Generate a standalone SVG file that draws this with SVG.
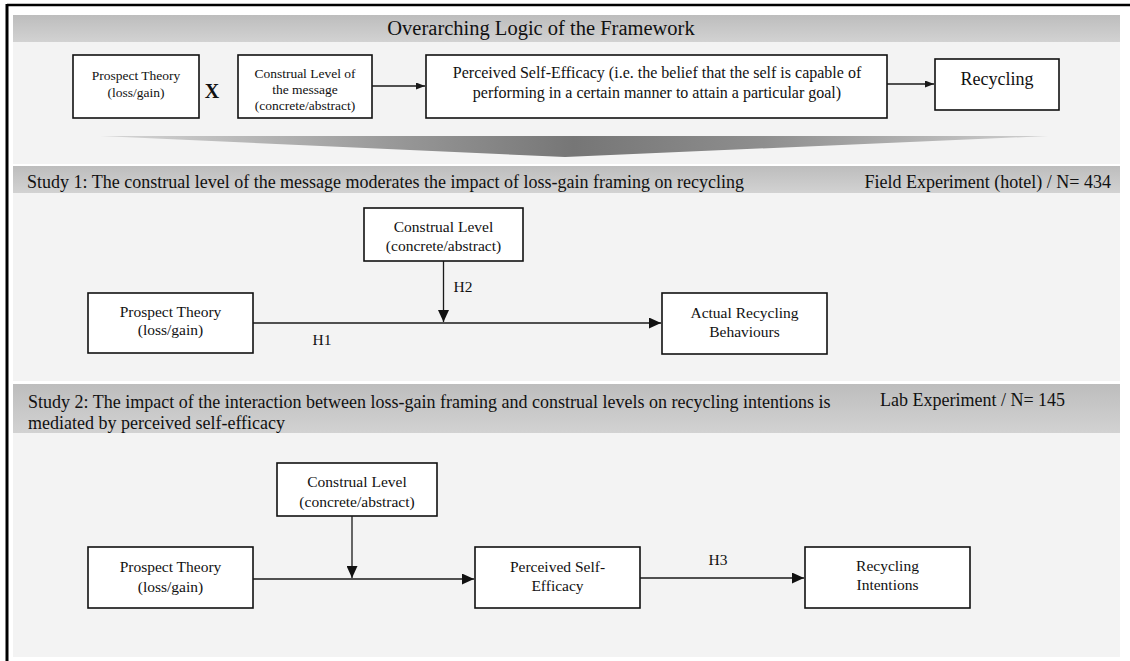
<svg xmlns="http://www.w3.org/2000/svg" width="1130" height="661" viewBox="0 0 1130 661">
<style>
text{font-family:"Liberation Serif","Times New Roman",serif;fill:#111}
.box{fill:#fff;stroke:#111;stroke-width:1.6}
.band{fill:url(#bandGrad)}
.panel{fill:#f3f3f3}
.t13{font-size:13.5px;text-anchor:middle}
.t15{font-size:15.5px;text-anchor:middle}
.t16{font-size:16px;text-anchor:middle}
.hdr{font-size:18px}
.conn{stroke:#1a1a1a;stroke-width:1.3;fill:none}
</style>
<defs>
<linearGradient id="bandGrad" x1="0" y1="0" x2="0" y2="1">
<stop offset="0" stop-color="#bdbdbd"/>
<stop offset="1" stop-color="#d2d2d2"/>
</linearGradient>
<linearGradient id="wedgeGrad" x1="0" y1="0" x2="1" y2="0">
<stop offset="0" stop-color="#d6d6d6"/>
<stop offset="0.3" stop-color="#9a9a9a"/>
<stop offset="0.5" stop-color="#767676"/>
<stop offset="0.7" stop-color="#8e8e8e"/>
<stop offset="1" stop-color="#d0d0d0"/>
</linearGradient>
<marker id="arrS" markerUnits="userSpaceOnUse" markerWidth="9" markerHeight="7" refX="9" refY="3.5" orient="auto">
<path d="M0,0 L9,3.5 L0,7 z" fill="#1a1a1a"/>
</marker>
<marker id="arrL" markerUnits="userSpaceOnUse" markerWidth="12" markerHeight="11" refX="12" refY="5.5" orient="auto">
<path d="M0,0 L12,5.5 L0,11 z" fill="#111"/>
</marker>
</defs>

<!-- background and frame -->
<rect x="0" y="0" width="1130" height="661" fill="#fff"/>
<rect x="13" y="42" width="1107" height="122" class="panel"/>
<rect x="13" y="193" width="1107" height="188" class="panel"/>
<rect x="13" y="433" width="1107" height="224" class="panel"/>
<line x1="7" y1="5" x2="1130" y2="5" stroke="#000" stroke-width="2.5"/>
<line x1="7" y1="4" x2="7" y2="661" stroke="#000" stroke-width="3"/>

<!-- header bands -->
<g id="band-overarching">
<rect x="13" y="15" width="1107" height="27" class="band"/>
<text x="541" y="35" style="font-size:20.5px;text-anchor:middle">Overarching Logic of the Framework</text>
</g>
<g id="band-study1">
<rect x="13" y="166" width="1107" height="27" class="band"/>
<text x="27" y="188" class="hdr">Study 1: The construal level of the message moderates the impact of loss-gain framing on recycling</text>
<text x="1111" y="188" class="hdr" style="text-anchor:end">Field Experiment (hotel) / N= 434</text>
</g>
<g id="band-study2">
<rect x="13" y="384" width="1107" height="49" class="band"/>
<text x="28" y="408" class="hdr">Study 2: The impact of the interaction between loss-gain framing and construal levels on recycling intentions is</text>
<text x="28" y="429" class="hdr">mediated by perceived self-efficacy</text>
<text x="880" y="406" class="hdr">Lab Experiment / N= 145</text>
</g>

<!-- overarching logic row -->
<g id="o-prospect">
<rect x="73" y="55" width="126" height="63" class="box"/>
<text x="136" y="80" class="t13">Prospect Theory</text>
<text x="136" y="97" class="t13">(loss/gain)</text>
</g>
<g id="o-x">
<text x="212" y="98" style="font-size:20px;font-weight:bold;text-anchor:middle">X</text>
</g>
<g id="o-construal">
<rect x="238" y="55" width="134" height="63" class="box"/>
<text x="305" y="77.5" class="t13">Construal Level of</text>
<text x="305" y="93.5" class="t13">the message</text>
<text x="305" y="110" class="t13">(concrete/abstract)</text>
</g>
<g id="o-efficacy">
<rect x="426" y="55" width="461" height="63" class="box"/>
<text x="657" y="78" class="t16">Perceived Self-Efficacy (i.e. the belief that the self is capable of</text>
<text x="657" y="98" class="t16">performing in a certain manner to attain a particular goal)</text>
</g>
<g id="o-recycling">
<rect x="935" y="59" width="124" height="51" class="box"/>
<text x="997" y="85" style="font-size:18px;text-anchor:middle">Recycling</text>
</g>

<!-- wedge -->
<g id="wedge">
<path d="M100,136 L1048,136 L565,157 Z" fill="url(#wedgeGrad)"/>
</g>

<!-- study 1 -->
<g id="s1-construal">
<rect x="364" y="208" width="159" height="53" class="box"/>
<text x="443.5" y="232" class="t15">Construal Level</text>
<text x="443.5" y="251" class="t15">(concrete/abstract)</text>
</g>
<g id="s1-prospect">
<rect x="88" y="293" width="165" height="60" class="box"/>
<text x="170.5" y="317" class="t15">Prospect Theory</text>
<text x="170.5" y="335" class="t15">(loss/gain)</text>
</g>
<g id="s1-actual">
<rect x="662" y="293" width="165" height="61" class="box"/>
<text x="744.5" y="318" class="t15">Actual Recycling</text>
<text x="744.5" y="337" class="t15">Behaviours</text>
</g>

<!-- study 2 -->
<g id="s2-construal">
<rect x="277" y="463" width="160" height="53" class="box"/>
<text x="357" y="487" class="t15">Construal Level</text>
<text x="357" y="507" class="t15">(concrete/abstract)</text>
</g>
<g id="s2-prospect">
<rect x="88" y="547" width="165" height="61" class="box"/>
<text x="170.5" y="572" class="t15">Prospect Theory</text>
<text x="170.5" y="592" class="t15">(loss/gain)</text>
</g>
<g id="s2-efficacy">
<rect x="475" y="547" width="165" height="61" class="box"/>
<text x="557.5" y="572" class="t15">Perceived Self-</text>
<text x="557.5" y="591" class="t15">Efficacy</text>
</g>
<g id="s2-intentions">
<rect x="805" y="547" width="165" height="61" class="box"/>
<text x="887.5" y="571" class="t15">Recycling</text>
<text x="887.5" y="590" class="t15">Intentions</text>
</g>

<!-- connectors -->
<g id="connectors">
<line x1="372" y1="86" x2="425" y2="86" class="conn" marker-end="url(#arrS)"/>
<line x1="887" y1="84" x2="934" y2="84" class="conn" marker-end="url(#arrS)"/>

<line x1="253" y1="323" x2="661" y2="323" class="conn" marker-end="url(#arrL)"/>
<line x1="443.5" y1="261" x2="443.5" y2="322" class="conn" marker-end="url(#arrL)"/>

<line x1="253" y1="579" x2="474" y2="579" class="conn" marker-end="url(#arrL)"/>
<line x1="352" y1="516" x2="352" y2="578" class="conn" marker-end="url(#arrL)"/>
<line x1="640" y1="578" x2="804" y2="578" class="conn" marker-end="url(#arrL)"/>

<text x="463" y="292" class="t15">H2</text>
<text x="322" y="345" class="t15">H1</text>
<text x="718" y="565" class="t15">H3</text>
</g>
</svg>
